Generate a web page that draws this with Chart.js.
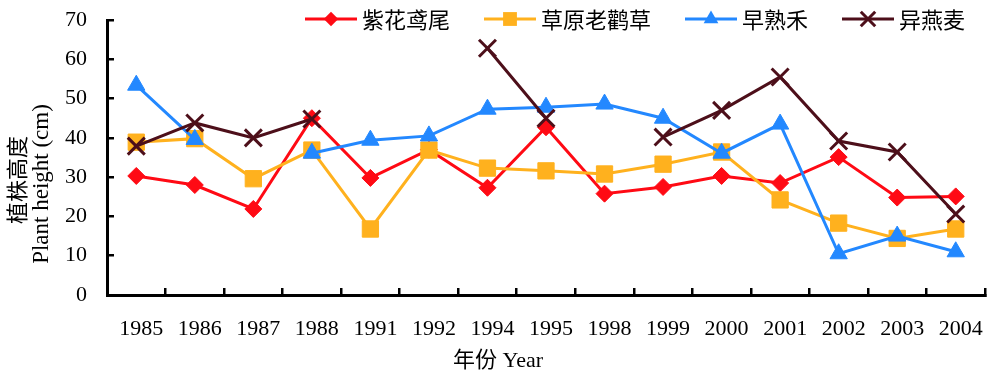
<!DOCTYPE html>
<html>
<head>
<meta charset="utf-8">
<script src="https://cdn.jsdelivr.net/npm/chart.js@4/dist/chart.umd.min.js"></script>
<style>
  html, body { margin: 0; padding: 0; background: #fff; }
  #wrap { width: 1000px; height: 382px; position: relative; }
</style>
</head>
<body>
<div id="wrap"><canvas id="c"></canvas></div>
<script>
const years = ['1985','1986','1987','1988','1991','1992','1994','1995','1998','1999','2000','2001','2002','2003','2004'];
const yTicks = [0, 10, 20, 30, 40, 50, 60, 70];
const seriesNames = ['紫花鸢尾', '草原老鹳草', '早熟禾', '异燕麦'];
const ziHuaYuanWei = [30.3, 28.0, 21.9, 45.0, 29.8, 37.0, 27.3, 42.7, 25.8, 27.5, 30.3, 28.5, 35.1, 24.8, 25.1];
const caoYuanLaoGuanCao = [38.9, 39.8, 29.6, 36.9, 16.8, 36.9, 32.3, 31.6, 30.8, 33.3, 36.4, 24.2, 18.3, 14.4, 16.8];
const zaoShuHe = [53.4, 39.6, null, 36.1, 39.4, 40.5, 47.3, 47.8, 48.6, 45.0, 36.1, 43.5, 10.5, 15.0, 11.0];
const yiYanMai = [37.9, 43.8, 40.0, 44.8, null, null, 62.8, 45.0, null, 40.2, 47.0, 55.5, 39.2, 36.4, 20.6];
const xTitle = '年份 Year';
const yTitle1 = '植株高度';
const yTitle2 = 'Plant height (cm)';

const RED = '#FF0A14', ORANGE = '#FFB11E', BLUE = '#2388FF', DARK = '#4D0F1A';
const SERIF = "'Liberation Serif', 'Times New Roman', serif";
const CJK = "'Noto Sans CJK SC', sans-serif";

Chart.defaults.font.family = SERIF;
Chart.defaults.color = '#000';

function mk(label, data, color, style, radius, bw, order) {
  return {
    label, data, order,
    borderColor: color, backgroundColor: color,
    pointBackgroundColor: color, pointBorderColor: color,
    pointStyle: style, pointRadius: radius, pointBorderWidth: bw,
    borderWidth: 3, tension: 0, spanGaps: false, fill: false
  };
}

function drawMarker(ctx, style, r, x, y) {
  ctx.beginPath();
  if (style === 'rectRot') {
    ctx.moveTo(x, y - r); ctx.lineTo(x + r, y); ctx.lineTo(x, y + r); ctx.lineTo(x - r, y); ctx.closePath(); ctx.fill();
  } else if (style === 'rect') {
    const s = r * Math.SQRT1_2; ctx.rect(x - s, y - s, 2 * s, 2 * s); ctx.fill();
  } else if (style === 'triangle') {
    ctx.moveTo(x, y - r); ctx.lineTo(x + r * Math.sin(Math.PI / 3), y + r / 2); ctx.lineTo(x - r * Math.sin(Math.PI / 3), y + r / 2); ctx.closePath(); ctx.fill();
  } else if (style === 'crossRot') {
    const o = r * Math.SQRT1_2;
    ctx.moveTo(x - o, y - o); ctx.lineTo(x + o, y + o); ctx.moveTo(x - o, y + o); ctx.lineTo(x + o, y - o); ctx.stroke();
  }
}

const legendPlugin = {
  id: 'lineLegend',
  afterDraw(chart) {
    const ctx = chart.ctx;
    ctx.save();
    let x = 305; const y = 19;
    ctx.font = "22px " + CJK;
    ctx.textBaseline = 'middle';
    chart.data.datasets.forEach(ds => {
      ctx.strokeStyle = ds.borderColor; ctx.lineWidth = 3;
      ctx.beginPath(); ctx.moveTo(x, y); ctx.lineTo(x + 52, y); ctx.stroke();
      ctx.fillStyle = ds.pointBackgroundColor; ctx.strokeStyle = ds.pointBorderColor; ctx.lineWidth = ds.pointBorderWidth;
      drawMarker(ctx, ds.pointStyle, ds.pointRadius * 0.85, x + 26, y);
      ctx.fillStyle = '#000';
      ctx.fillText(ds.label, x + 57, y + 1);
      x = x + 57 + ctx.measureText(ds.label).width + 34;
    });
    ctx.restore();
  }
};

const titlePlugin = {
  id: 'axisTitles',
  afterDraw(chart) {
    const ctx = chart.ctx;
    ctx.save();
    ctx.fillStyle = '#000';
    ctx.textAlign = 'center';
    ctx.textBaseline = 'middle';
    ctx.font = "22px 'Liberation Serif', " + CJK;
    ctx.fillText(xTitle, 498, 361);
    ctx.translate(17, 180); ctx.rotate(-Math.PI / 2);
    ctx.font = "22px " + CJK;
    ctx.fillText(yTitle1, 0, 0);
    ctx.restore();
    ctx.save();
    ctx.fillStyle = '#000';
    ctx.textAlign = 'center';
    ctx.textBaseline = 'middle';
    ctx.translate(42, 184); ctx.rotate(-Math.PI / 2);
    ctx.font = "23px " + SERIF;
    ctx.fillText(yTitle2, 0, 0);
    ctx.restore();
  }
};

function noPad(scale) {
  scale.paddingLeft = 0; scale.paddingRight = 0; scale.paddingTop = 0; scale.paddingBottom = 0;
}

new Chart(document.getElementById('c'), {
  type: 'line',
  data: {
    labels: years,
    datasets: [
      mk(seriesNames[0], ziHuaYuanWei, RED, 'rectRot', 8.5, 1, 4),
      mk(seriesNames[1], caoYuanLaoGuanCao, ORANGE, 'rect', 11.5, 1, 3),
      mk(seriesNames[2], zaoShuHe, BLUE, 'triangle', 10, 1, 2),
      mk(seriesNames[3], yiYanMai, DARK, 'crossRot', 12, 3, 1)
    ]
  },
  options: {
    responsive: true,
    maintainAspectRatio: false,
    animation: false,
    devicePixelRatio: 1,
    layout: { padding: { left: 0, right: 9, top: 20, bottom: 0 } },
    plugins: { legend: { display: false }, tooltip: { enabled: false }, title: { display: false } },
    scales: {
      x: {
        type: 'category',
        offset: true,
        grid: { offset: true, drawOnChartArea: false, drawTicks: true, tickLength: -7, color: '#000', lineWidth: 2.5 },
        border: { display: true, color: '#000', width: 3 },
        ticks: { font: { size: 22, family: SERIF }, color: '#000', padding: 28, maxRotation: 0, autoSkip: false, labelOffset: 5 },
        afterFit(scale) { scale.height = 87; noPad(scale); }
      },
      y: {
        min: 0, max: 70,
        afterBuildTicks(scale) { scale.ticks = yTicks.map(v => ({ value: v })); },
        grid: { drawOnChartArea: false, drawTicks: true, tickLength: -7, color: '#000', lineWidth: 2.5 },
        border: { display: true, color: '#000', width: 3 },
        ticks: { font: { size: 22, family: SERIF }, color: '#000', padding: 27 },
        afterFit(scale) { scale.width = 107; noPad(scale); }
      }
    }
  },
  plugins: [legendPlugin, titlePlugin]
});
</script>
</body>
</html>
